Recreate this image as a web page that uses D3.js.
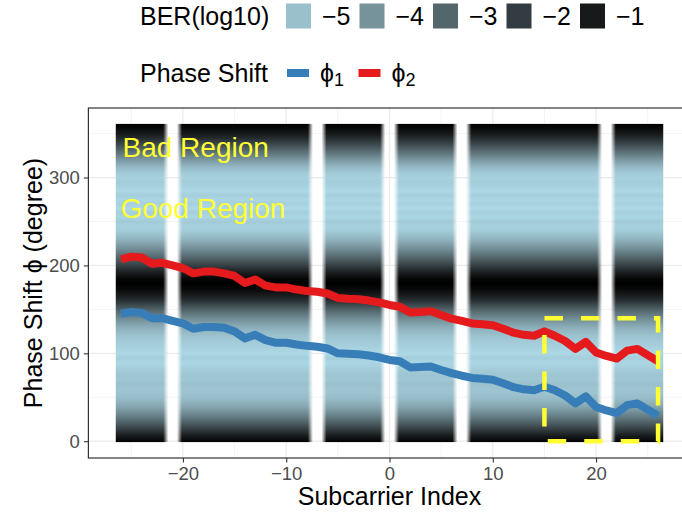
<!DOCTYPE html>
<html>
<head>
<meta charset="utf-8">
<script src="https://cdn.jsdelivr.net/npm/d3@7"></script>
<style>
  html, body { margin: 0; padding: 0; background: #fff; }
  svg { display: block; font-family: "Liberation Sans", Arial, Helvetica, sans-serif; }
</style>
</head>
<body>
<svg id="chart" width="682" height="514"></svg>
<script>
// ---- data ----------------------------------------------------------------
const subcarrierIndex = [-26,-25,-24,-23,-22,-21,-20,-19,-18,-17,-16,-15,-14,-13,-12,-11,-10,-9,-8,-7,-6,-5,-4,-3,-2,-1,
                         0,1,2,3,4,5,6,7,8,9,10,11,12,13,14,15,16,17,18,19,20,21,22,23,24,25,26];

// measured phase shift per subcarrier (degrees)
const phi1 = [145,147,146,140,140,137,134,128,130,130,129,125,117,121,115,112,112,110,108.5,107.5,105.5,100,99.5,99,97.5,95.5,
              92.5,91,84,84.5,85,81,77.5,74.5,72,71,70,66,61.5,59,58,62,58,52,43,51,39,35,32,41,43,36,29];
const phi2 = [207,210,209,202,203,200,197,191,193,193,191,188,180,184,177,175,175,172.5,171,170,168,163,162,161.5,160,158,
              155,153,146.5,147,148,143.5,139.5,137,134,133,132,128,123.5,121,120,125,120,114,105,113,101,97,94,103,105,98,91];

// pilot / DC subcarriers carry no BER value
const blankSubcarriers = [-21, -7, 0, 7, 21];

// BER (log10) as a function of phase shift, identical for every data subcarrier
const phaseGrid = [0,5,10,15,20,25,30,35,40,45,50,55,60,65,70,75,80,85,90,95,100,105,110,115,120,125,130,135,140,145,150,155,
                   160,165,170,175,180,185,190,195,200,205,210,215,220,225,230,235,240,245,250,255,260,265,270,275,280,285,
                   290,295,300,305,310,315,320,325,330,335,340,345,350,355,360];
const berLog10 = [-0.55,-0.95,-1.6,-2.2,-2.75,-3.25,-3.7,-4.1,-4.5,-4.75,-4.95,-5.05,-5.1,-5.0,-5.15,-5.1,-5.2,-5.35,-5.45,-5.3,
                  -5.5,-5.4,-5.3,-5.2,-5.05,-4.85,-4.6,-4.25,-3.85,-3.4,-2.9,-2.3,-1.7,-1.2,-0.8,-0.6,-0.5,-0.6,-0.95,-1.5,
                  -2.1,-2.6,-3.1,-3.55,-4.0,-4.4,-4.75,-5.0,-5.25,-5.35,-5.2,-5.45,-5.3,-5.5,-5.35,-5.45,-5.3,-5.5,-5.35,-5.25,
                  -5.35,-5.2,-4.95,-4.6,-4.15,-3.65,-3.15,-2.6,-2.05,-1.5,-1.0,-0.7,-0.5];

const berBreaks = [-5, -4, -3, -2, -1];
const xTicks = [-20, -10, 0, 10, 20];
const xMinor = [-25, -15, -5, 5, 15, 25];
const yTicks = [0, 100, 200, 300];
const yMinor = [50, 150, 250, 350];

// highlighted region (subcarrier range, phase range)
const boxSubcarriers = [15, 26];
const boxPhase = [0, 140];

// ---- layout ----------------------------------------------------------------
const panel = { left: 88.4, right: 690.6, top: 108, bottom: 458 };
const svg = d3.select("#chart");

const x = d3.scaleLinear().domain([-29.15, 29.15]).range([panel.left, panel.right]);
const y = d3.scaleLinear().domain([-19.1, 379.1]).range([panel.bottom, panel.top]);

const fill = d3.scaleLinear()
  .domain([-5.5, -0.5])
  .range(["#add8e6", "#000000"])
  .interpolate(d3.interpolateLab)
  .clamp(true);

const gridColor = "#ebebeb";
const inkDark = "#333333";
const tickText = "#4d4d4d";
const yellow = "#ffff33";

// panel background
svg.append("rect")
  .attr("x", panel.left).attr("y", panel.top)
  .attr("width", panel.right - panel.left).attr("height", panel.bottom - panel.top)
  .attr("fill", "#fff");

// grid
const grid = svg.append("g");
yMinor.forEach(v => grid.append("line")
  .attr("x1", panel.left).attr("x2", panel.right).attr("y1", y(v)).attr("y2", y(v))
  .attr("stroke", gridColor).attr("stroke-width", 0.6));
xMinor.forEach(v => grid.append("line")
  .attr("y1", panel.top).attr("y2", panel.bottom).attr("x1", x(v)).attr("x2", x(v))
  .attr("stroke", gridColor).attr("stroke-width", 0.6));
yTicks.forEach(v => grid.append("line")
  .attr("x1", panel.left).attr("x2", panel.right).attr("y1", y(v)).attr("y2", y(v))
  .attr("stroke", gridColor).attr("stroke-width", 1.2));
xTicks.forEach(v => grid.append("line")
  .attr("y1", panel.top).attr("y2", panel.bottom).attr("x1", x(v)).attr("x2", x(v))
  .attr("stroke", gridColor).attr("stroke-width", 1.2));

// ---- BER raster (interpolated, blank subcarriers transparent) -------------
const half = 0.5;
const phaseLo = -1, phaseHi = 361;
const rx0 = x(subcarrierIndex[0] - half), rx1 = x(subcarrierIndex[subcarrierIndex.length - 1] + half);
const ry0 = y(phaseHi), ry1 = y(phaseLo);
const W = Math.round(rx1 - rx0), H = Math.round(ry1 - ry0);

const canvas = document.createElement("canvas");
canvas.width = W; canvas.height = H;
const ctx = canvas.getContext("2d");
const img = ctx.createImageData(W, H);

const berAt = d3.scaleLinear().domain(phaseGrid).range(berLog10).clamp(true);
const rowColor = [];
for (let j = 0; j < H; j++) {
  const phase = y.invert(ry0 + (j + 0.5) * (ry1 - ry0) / H);
  rowColor.push(d3.rgb(fill(berAt(phase))));
}
const colAlpha = [];
for (let i = 0; i < W; i++) {
  const s = x.invert(rx0 + (i + 0.5) * (rx1 - rx0) / W);
  const d = d3.min(blankSubcarriers, b => Math.abs(s - b));
  colAlpha.push(d < 0.42 ? 0 : d > 0.9 ? 1 : (d - 0.42) / 0.48);
}
for (let j = 0; j < H; j++) {
  const c = rowColor[j];
  for (let i = 0; i < W; i++) {
    const k = (j * W + i) * 4;
    img.data[k] = c.r; img.data[k + 1] = c.g; img.data[k + 2] = c.b;
    img.data[k + 3] = Math.round(255 * colAlpha[i]);
  }
}
ctx.putImageData(img, 0, 0);

svg.append("image")
  .attr("href", canvas.toDataURL())
  .attr("x", rx0).attr("y", ry0)
  .attr("width", rx1 - rx0).attr("height", ry1 - ry0)
  .attr("preserveAspectRatio", "none");

// ---- phase shift lines --------------------------------------------------
const line = d3.line().x(d => x(d[0])).y(d => y(d[1]));
const series = [
  { values: phi1, color: "#377eb8" },
  { values: phi2, color: "#e41a1c" }
];
series.forEach(s => {
  svg.append("path")
    .attr("d", line(subcarrierIndex.map((k, i) => [k, s.values[i]])))
    .attr("fill", "none")
    .attr("stroke", s.color)
    .attr("stroke-width", 8)
    .attr("stroke-linejoin", "round")
    .attr("stroke-linecap", "butt");
});

// highlighted region
svg.append("rect")
  .attr("x", x(boxSubcarriers[0])).attr("y", y(boxPhase[1]))
  .attr("width", x(boxSubcarriers[1]) - x(boxSubcarriers[0]))
  .attr("height", y(boxPhase[0]) - y(boxPhase[1]))
  .attr("fill", "none")
  .attr("stroke", yellow)
  .attr("stroke-width", 4.5)
  .attr("stroke-dasharray", "18.5,18");

// region annotations
svg.append("text")
  .attr("x", x(-25.85)).attr("y", y(335)).attr("dy", "0.35em")
  .attr("font-size", 28).attr("fill", yellow)
  .text("Bad Region");
svg.append("text")
  .attr("x", x(-26.05)).attr("y", y(265)).attr("dy", "0.35em")
  .attr("font-size", 28).attr("fill", yellow)
  .text("Good Region");

// panel border
svg.append("rect")
  .attr("x", panel.left).attr("y", panel.top)
  .attr("width", panel.right - panel.left).attr("height", panel.bottom - panel.top)
  .attr("fill", "none").attr("stroke", inkDark).attr("stroke-width", 1.2);

// ---- axes -----------------------------------------------------------------
const fmt = v => (v < 0 ? "\u2212" + Math.abs(v) : String(v));

const xAxis = svg.append("g").attr("transform", `translate(0,${panel.bottom})`)
  .call(d3.axisBottom(x).tickValues(xTicks).tickFormat(fmt).tickSize(4.5).tickPadding(4));
const yAxis = svg.append("g").attr("transform", `translate(${panel.left},0)`)
  .call(d3.axisLeft(y).tickValues(yTicks).tickFormat(fmt).tickSize(4.5).tickPadding(4));
[xAxis, yAxis].forEach(a => {
  a.select(".domain").remove();
  a.selectAll(".tick line").attr("stroke", inkDark).attr("stroke-width", 1.1);
  a.selectAll(".tick text").attr("fill", tickText).attr("font-size", 18.5)
    .attr("font-family", "\"Liberation Sans\", Arial, sans-serif");
});

svg.append("text")
  .attr("x", (panel.left + panel.right) / 2).attr("y", 505)
  .attr("text-anchor", "middle").attr("font-size", 25).attr("fill", "#000")
  .text("Subcarrier Index");

svg.append("text")
  .attr("transform", `translate(42,${(panel.top + panel.bottom) / 2}) rotate(-90)`)
  .attr("text-anchor", "middle").attr("font-size", 25).attr("fill", "#000")
  .text("Phase Shift \u03d5 (degree)");

// ---- legends ---------------------------------------------------------------
const leg1 = svg.append("g");
leg1.append("text").attr("x", 140).attr("y", 16).attr("dy", "0.35em")
  .attr("font-size", 25).text("BER(log10)");
berBreaks.forEach((b, i) => {
  const kx = 286 + i * 73.5;
  leg1.append("rect").attr("x", kx).attr("y", 3.5).attr("width", 25).attr("height", 25)
    .attr("fill", fill(b));
  leg1.append("text").attr("x", kx + 36).attr("y", 16).attr("dy", "0.35em")
    .attr("font-size", 25).text(fmt(b));
});

const leg2 = svg.append("g");
leg2.append("text").attr("x", 140).attr("y", 73).attr("dy", "0.35em")
  .attr("font-size", 25).text("Phase Shift");
const phiLabels = ["1", "2"];
series.forEach((s, i) => {
  const kx = 287 + i * 71.5;
  leg2.append("line").attr("x1", kx).attr("x2", kx + 22).attr("y1", 73).attr("y2", 73)
    .attr("stroke", s.color).attr("stroke-width", 8);
  const t = leg2.append("text").attr("x", kx + 33).attr("y", 73).attr("dy", "0.35em")
    .attr("font-size", 25);
  t.append("tspan").text("\u03d5");
  t.append("tspan").attr("font-size", 18).attr("dy", "0.25em").text(phiLabels[i]);
});
</script>
</body>
</html>
